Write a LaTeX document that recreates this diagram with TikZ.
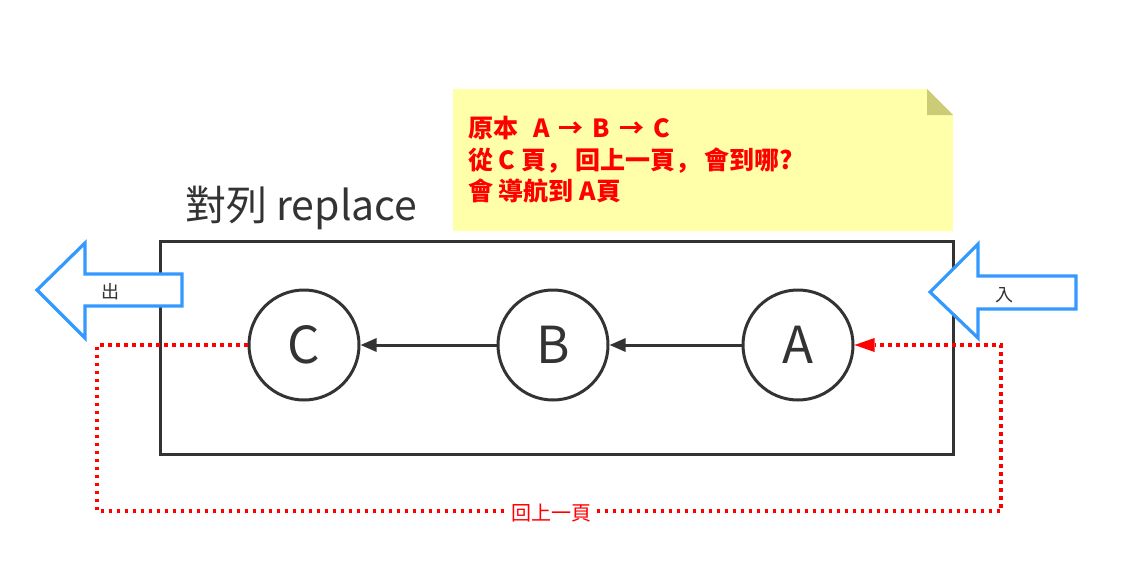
\documentclass[tikz,border=0pt]{standalone}
\usepackage{fontspec}
\setmainfont{Noto Sans CJK TC}
\newfontfamily\notefont{Noto Sans CJK SC}
\usetikzlibrary{arrows.meta}
\definecolor{ink}{HTML}{333333}
\definecolor{noteyellow}{HTML}{FFFFAA}
\definecolor{notefold}{HTML}{CCCC77}
\definecolor{flowblue}{HTML}{3399FF}
\definecolor{backred}{HTML}{FF0000}
\newcommand{\gapx}{\hspace{9pt}}
\tikzset{
  pagebox/.style={draw=ink, line width=3pt, minimum width=793pt, minimum height=213pt, inner sep=0pt},
  pagenode/.style={circle, draw=ink, line width=3pt, minimum size=110pt, inner sep=0pt, text=ink, font=\fontsize{51}{51}\selectfont},
  forward/.style={draw=ink, line width=3pt, -{Triangle[length=16pt,width=13pt]}},
  backlink/.style={draw=backred, line width=3.2pt, dash pattern=on 3.2pt off 4.8pt, -{Triangle[length=20pt,width=14pt,line width=0pt]}},
  flowarrow/.style={draw=flowblue, line width=3.2pt, fill=white, line join=miter},
  flowlabel/.style={text=ink, font=\fontsize{18}{18}\selectfont, inner sep=0pt}
}
\begin{document}
\begin{tikzpicture}[x=1pt,y=-1pt]
\useasboundingbox (0,0) rectangle (1121,586);
% sticky note
\fill[noteyellow] (453,89) -- (927,89) -- (953,115) -- (953,231) -- (453,231) -- cycle;
\fill[notefold] (927,89) -- (953,115) -- (927,115) -- cycle;
\node[anchor=north west, align=left, text=backred, inner sep=0pt, font=\notefont\bfseries\fontsize{25}{31.5}\selectfont] (note) at (468,116)
  {原本\hspace{15pt}A\gapx→\gapx B\gapx→\gapx C\\從 C 頁，\hspace{4pt}回上一頁，\hspace{4pt}會到哪?\\會 導航到 A頁};
% title
\node[text=ink, font=\fontsize{41}{41}\selectfont, anchor=base west, inner sep=0pt] (title) at (185,220) {對列 replace};
% box
\node[pagebox] (box) at (556.5,347.5) {};
% pages
\node[pagenode] (C) at (304,345) {C};
\node[pagenode] (B) at (553,345) {B};
\node[pagenode] (A) at (798,345) {A};
\draw[forward] (A) -- (B);
\draw[forward] (B) -- (C);
% back link
\coordinate (p1) at (97,345);
\coordinate (p2) at (97,511);
\coordinate (p3) at (1001,511);
\coordinate (p4) at (1001,345);
\draw[backlink] (C.west) -- (p1) -- (p2) -- (p3) -- (p4) -- (A.east);
\node[fill=white, text=backred, font=\fontsize{20}{20}\selectfont, inner sep=2pt] (backlabel) at (551,513) {回上一頁};
% out arrow
\draw[flowarrow] (182,274) -- (85,274) -- (85,243) -- (37,290) -- (85,338) -- (85,306) -- (182,306) -- cycle;
\node[flowlabel] (outlabel) at (110,292) {出};
% in arrow
\draw[flowarrow] (1076,276) -- (978,276) -- (978,244) -- (930,292) -- (978,338) -- (978,309) -- (1076,309) -- cycle;
\node[flowlabel] (inlabel) at (1004,295) {入};
\end{tikzpicture}
\end{document}
